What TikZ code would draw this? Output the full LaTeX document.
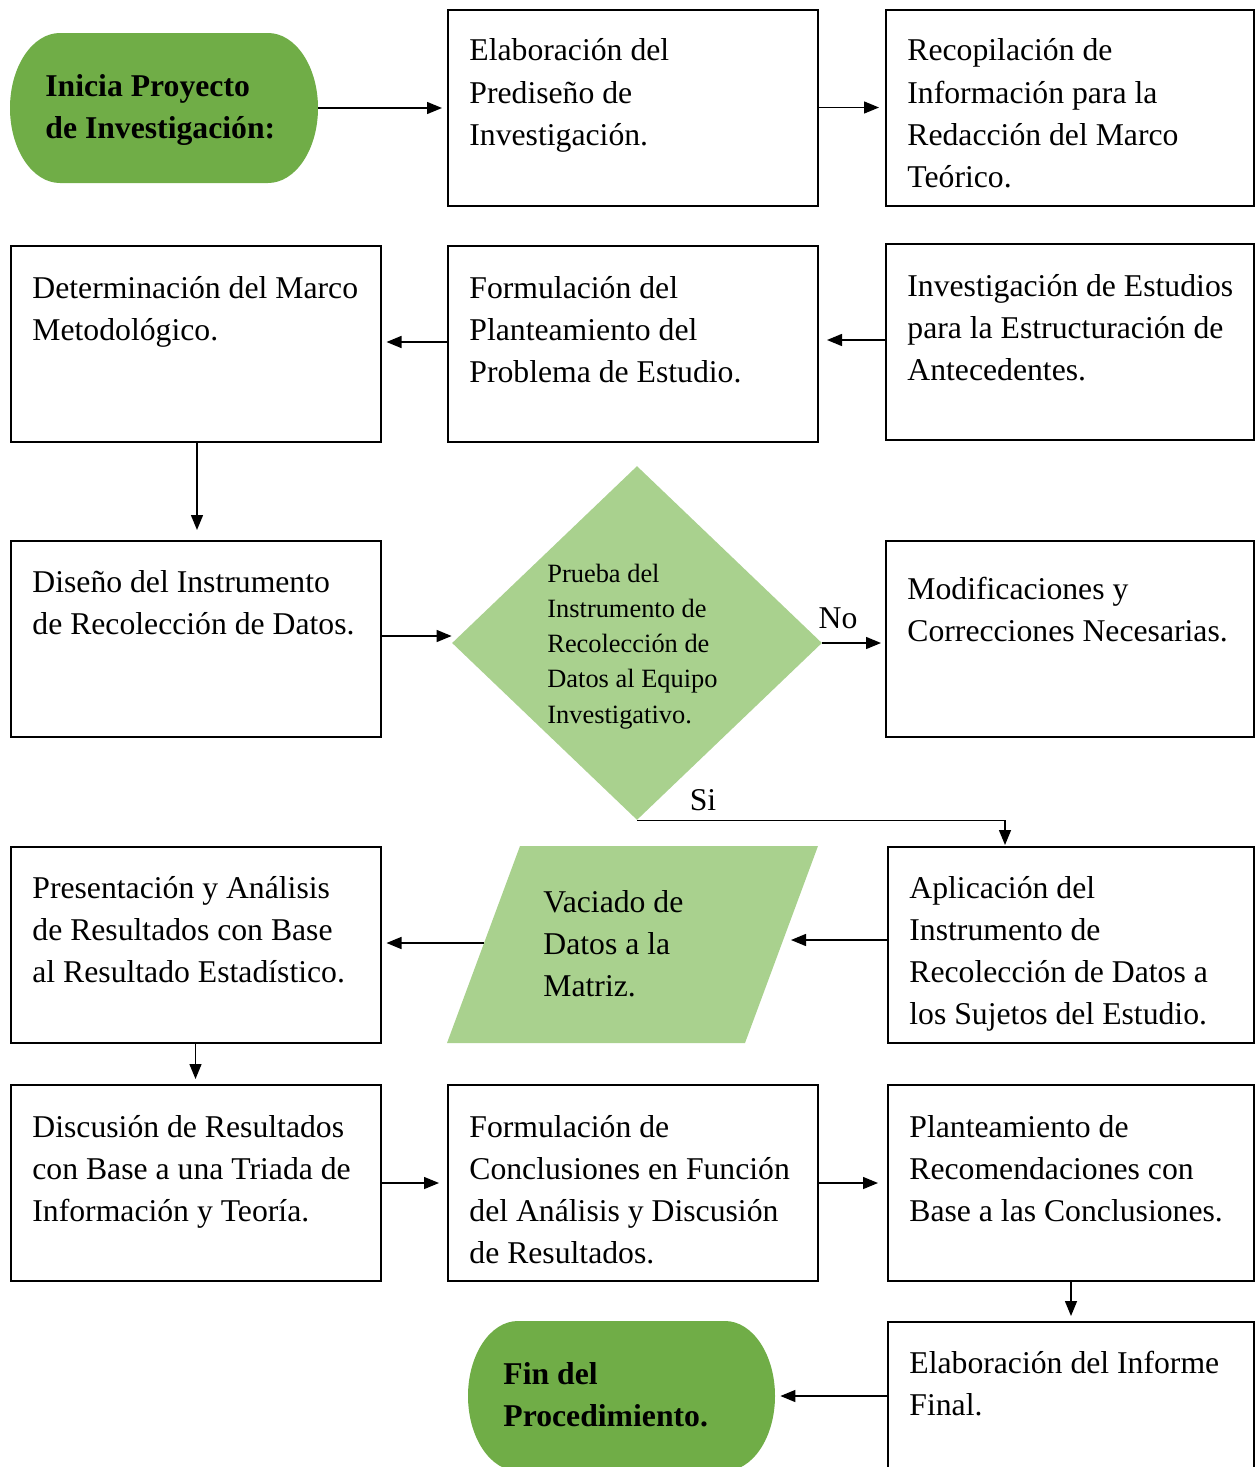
\documentclass[tikz,border=0pt]{standalone}
\usepackage{fontspec}
\setmainfont{Liberation Serif}
\usetikzlibrary{arrows.meta,shapes.geometric}
\definecolor{darkgreen}{HTML}{70AD47}
\definecolor{lightgreen}{HTML}{A9D18E}
\newcommand\boxlines[1]{\parbox[t]{240pt}{\raggedright #1}}
\tikzset{
  box/.style={draw, line width=1pt, minimum width=185pt, minimum height=98pt, inner sep=0pt},
  txt/.style={anchor=base west, inner sep=0pt, font=\fontsize{15.85pt}{21.15pt}\selectfont},
  smalltxt/.style={anchor=base west, inner sep=0pt, font=\fontsize{13.2pt}{17.65pt}\selectfont},
  boldtxt/.style={anchor=base west, inner sep=0pt, font=\fontsize{15.85pt}{21.15pt}\selectfont\bfseries},
  lab/.style={inner sep=0pt, font=\fontsize{15.85pt}{21.15pt}\selectfont},
  arr/.style={-{Triangle[length=7.5pt,width=6pt]}, line width=0.7pt},
  ghost/.style={inner sep=0pt, minimum width=154pt, minimum height=75pt}
}
\begin{document}
\begin{tikzpicture}[x=0.5pt,y=-0.5pt]
\useasboundingbox (0,0) rectangle (1256,1467);
\clip (0,0) rectangle (1256,1467);
% terminals
\fill[darkgreen] (60,33) -- (268,33) arc[start angle=-90, end angle=90, x radius=50, y radius=75]
  -- (60,183) arc[start angle=90, end angle=270, x radius=50, y radius=75] -- cycle;
\node[ghost] (S) at (164,108) {};
\fill[darkgreen] (518,1321) -- (725,1321) arc[start angle=-90, end angle=90, x radius=50, y radius=75]
  -- (518,1471) arc[start angle=90, end angle=270, x radius=50, y radius=75] -- cycle;
\node[ghost, minimum width=153.5pt] (Z) at (621.5,1396) {};
% boxes
\node[box] (A) at (633,107.5) {};
\node[box, minimum width=184pt] (B) at (1070,107.5) {};
\node[box] (C) at (195.5,344) {};
\node[box] (D) at (633,344) {};
\node[box, minimum width=184pt] (E) at (1070,342) {};
\node[box] (F) at (195.5,639) {};
\node[box, minimum width=184pt] (G) at (1070,639) {};
\node[box] (H) at (195.5,945) {};
\node[box, minimum width=183pt] (I) at (1071,945) {};
\node[box] (J) at (195.5,1183) {};
\node[box] (K) at (633,1183) {};
\node[box, minimum width=183pt] (L) at (1071,1183) {};
\node[box, minimum width=183pt] (M) at (1071,1420) {};
% decision and data
\node[diamond, fill=lightgreen, minimum width=185pt, minimum height=177pt, inner sep=0pt] (Dm) at (637,643) {};
\fill[lightgreen] (520,846) -- (818,846) -- (745,1043) -- (447,1043) -- cycle;
\coordinate (Pl) at (484,943);
\coordinate (Pr) at (783,940);
\coordinate (Ientry) at (1005,847);
% texts
\node[boldtxt] (tS) at (45,96) {\boxlines{Inicia Proyecto\\de Investigación:}};
\node[boldtxt] (tZ) at (503,1384) {\boxlines{Fin del\\Procedimiento.}};
\node[txt] (tA) at (469,61) {\boxlines{Elaboración del\\Prediseño de\\Investigación.}};
\node[txt] (tB) at (907,61) {\boxlines{Recopilación de\\Información para la\\Redacción del Marco\\Teórico.}};
\node[txt] (tC) at (32,298) {\boxlines{Determinación del Marco\\Metodológico.}};
\node[txt] (tD) at (469,298) {\boxlines{Formulación del\\Planteamiento del\\Problema de Estudio.}};
\node[txt] (tE) at (907,296) {\boxlines{Investigación de Estudios\\para la Estructuración de\\Antecedentes.}};
\node[txt] (tF) at (32,592) {\boxlines{Diseño del Instrumento\\de Recolección de Datos.}};
\node[smalltxt] (tDm) at (547,582) {\boxlines{Prueba del\\Instrumento de\\Recolección de\\Datos al Equipo\\Investigativo.}};
\node[txt] (tG) at (907,599) {\boxlines{Modificaciones y\\Correcciones Necesarias.}};
\node[txt] (tH) at (32,898) {\boxlines{Presentación y Análisis\\de Resultados con Base\\al Resultado Estadístico.}};
\node[txt] (tP) at (543,912) {\boxlines{Vaciado de\\Datos a la\\Matriz.}};
\node[txt] (tI) at (909,898) {\boxlines{Aplicación del\\Instrumento de\\Recolección de Datos a\\los Sujetos del Estudio.}};
\node[txt] (tJ) at (32,1137) {\boxlines{Discusión de Resultados\\con Base a una Triada de\\Información y Teoría.}};
\node[txt] (tK) at (469,1137) {\boxlines{Formulación de\\Conclusiones en Función\\del Análisis y Discusión\\de Resultados.}};
\node[txt] (tL) at (909,1137) {\boxlines{Planteamiento de\\Recomendaciones con\\Base a las Conclusiones.}};
\node[txt] (tM) at (909,1373) {\boxlines{Elaboración del Informe\\Final.}};
% connectors
\draw[arr, shorten >=2.5pt] (S.east) -- (S.east -| A.west);
\draw[arr, shorten >=3pt] (A.east) -- (B.west);
\draw[arr, shorten >=4pt] ([yshift=1pt]E.west) -- ([yshift=1pt]E.west -| D.east);
\draw[arr, shorten >=2.5pt] ([yshift=1pt]D.west) -- ([yshift=1pt]C.east);
\draw[arr, shorten >=5pt] ([xshift=0.75pt]C.south) -- ([xshift=0.75pt]F.north);
\draw[arr] ([yshift=1.5pt]F.east) -- ([yshift=1.5pt]F.east -| Dm.west);
\draw[arr, shorten >=2pt] (Dm.east) -- (Dm.east -| G.west);
\node[lab] (no) at (838,618) {No};
\draw[arr, shorten >=1pt] (Dm.south) -| (Ientry);
\node[lab] (si) at (703,800) {Si};
\draw[arr, shorten >=4pt] (I.west |- Pr) -- (Pr);
\draw[arr, shorten >=2.5pt] (Pl) -- (Pl -| H.east);
\draw[arr, shorten >=2.5pt] (H.south) -- (J.north);
\draw[arr, shorten >=4pt] (J.east) -- (K.west);
\draw[arr, shorten >=4.5pt] (K.east) -- (L.west);
\draw[arr, shorten >=2.5pt] (L.south) -- (M.north);
\draw[arr, shorten >=2.5pt] (M.west |- Z.east) -- (Z.east);
\end{tikzpicture}
\end{document}
